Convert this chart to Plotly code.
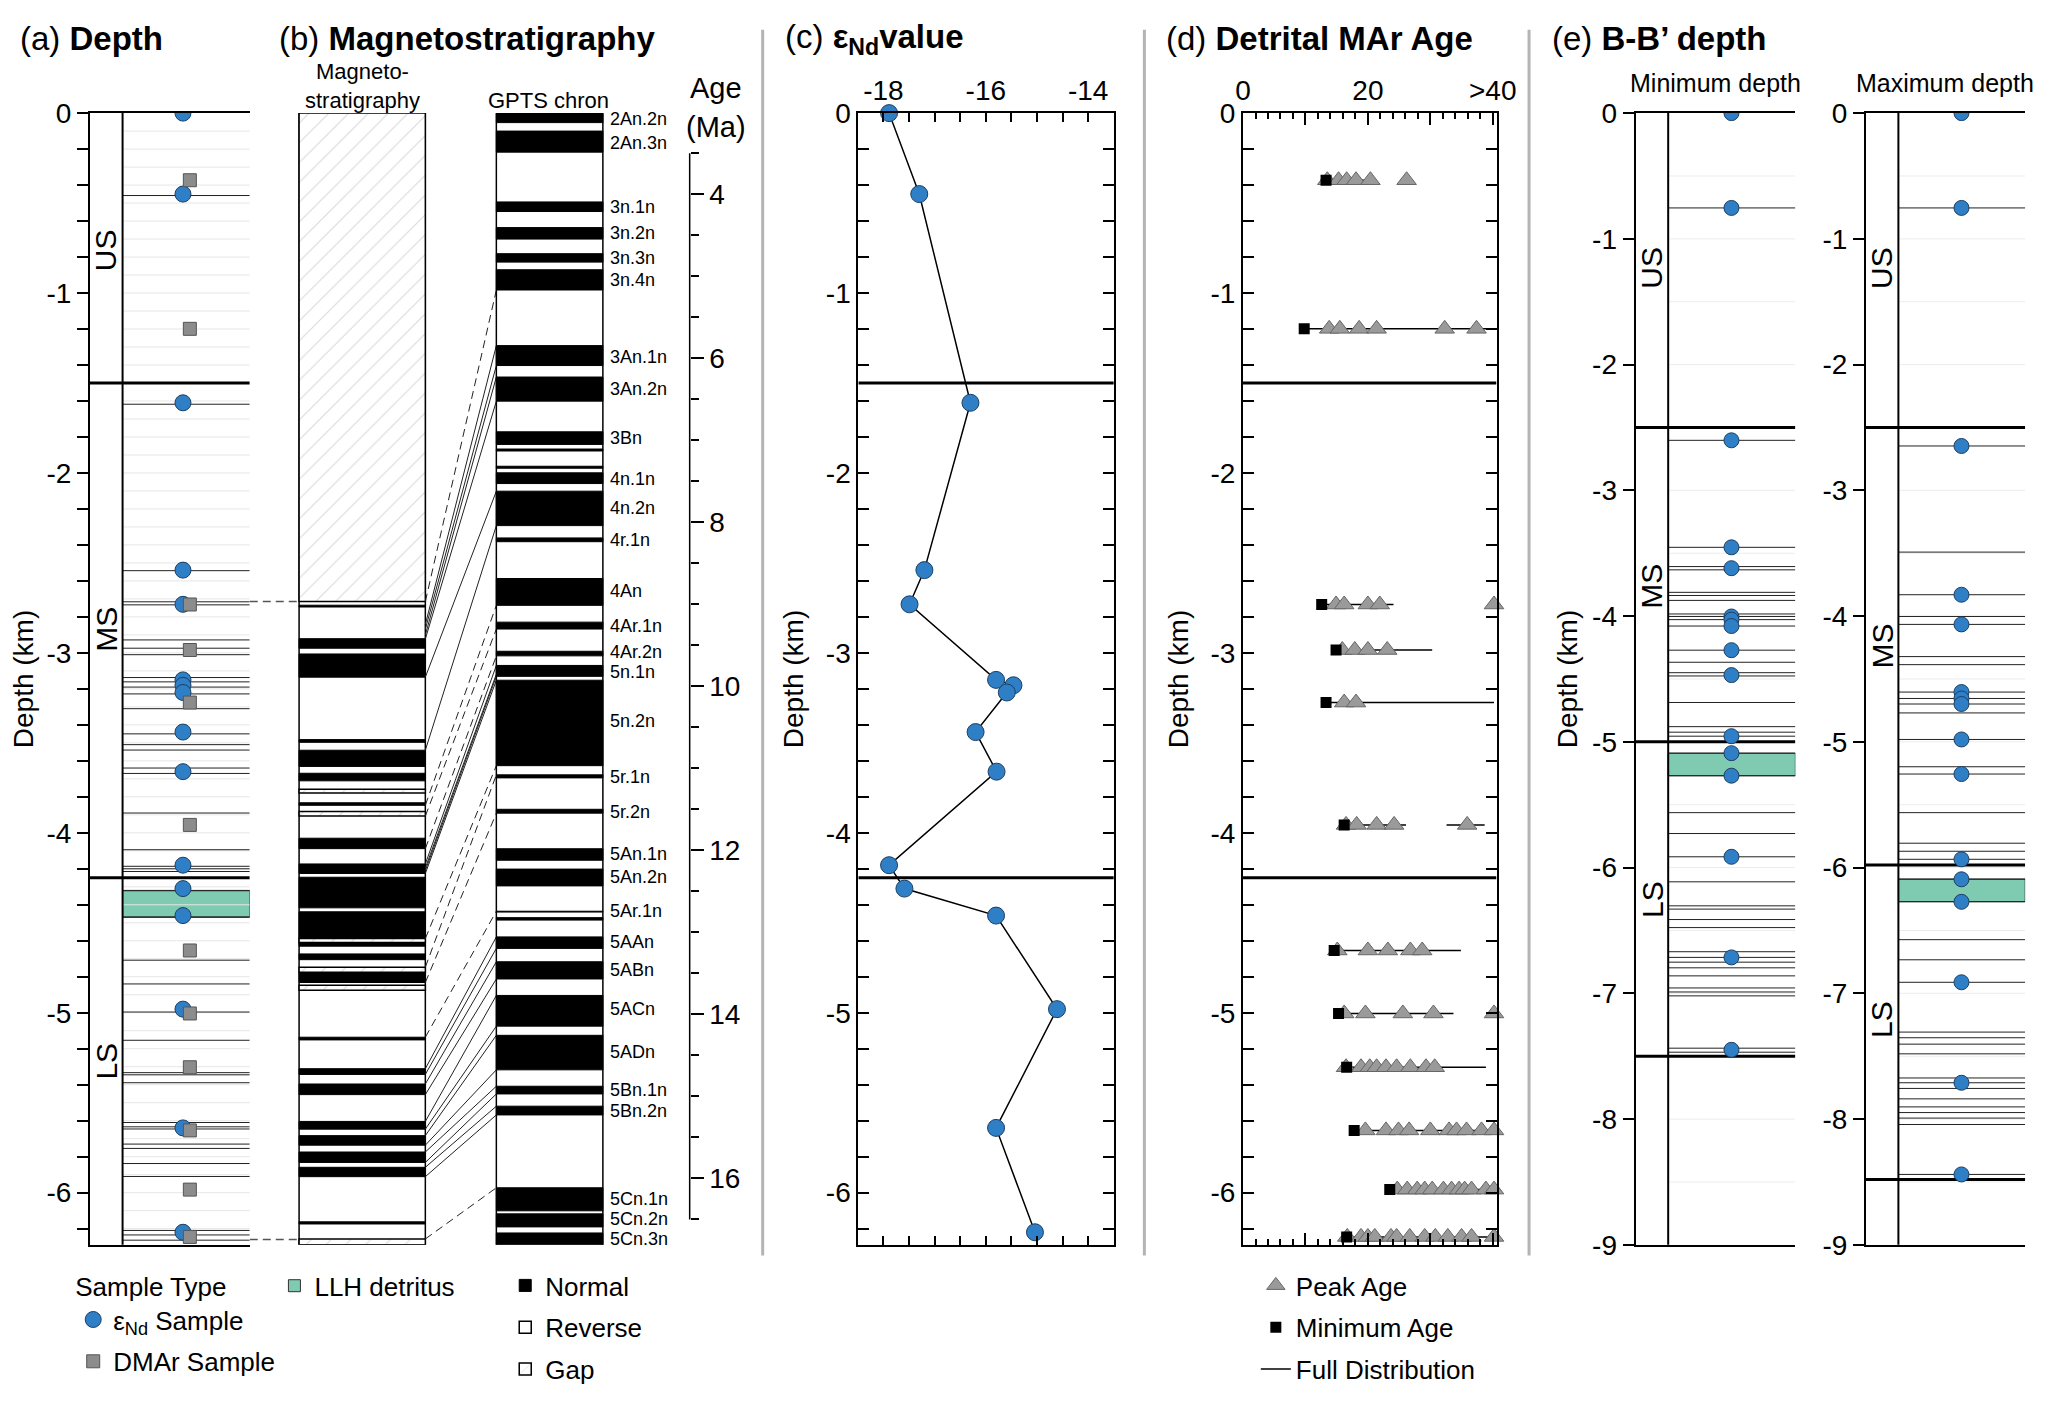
import numpy as np
import plotly.graph_objects as go

# page geometry: reference pixels -> paper fractions (page body has an 8px margin)
W, H = 2067, 1401
PAD = 8


def px(x):
    return (x - PAD) / (W - 2 * PAD)


def py(y):
    return 1 - (y - PAD) / (H - 2 * PAD)


TOP, BOT = 101, 1269
FONT = "Liberation Sans, Arial, sans-serif"
NARROW = "Liberation Sans Narrow, Liberation Sans, Arial, sans-serif"
BLUE = "#2f7fc7"
GREEN = "#7ecbb2"

# ---------------- data ----------------
# (a)/(c) eNd samples
end_depth = [0, -0.45, -1.61, -2.54, -2.73, -3.15, -3.18, -3.22, -3.44, -3.66,
             -4.18, -4.31, -4.46, -4.98, -5.64, -6.22]
end_value = [-17.89, -17.30, -16.30, -17.20, -17.49, -15.80, -15.46, -15.59, -16.20, -15.79,
             -17.89, -17.59, -15.80, -14.61, -15.80, -15.04]
# DMAr samples
dmar_depth = [-0.373, -1.199, -2.731, -2.984, -3.276, -3.956, -4.654, -5.004, -5.303,
              -5.654, -5.983, -6.246]
# unit boundaries and sampled horizons (a)
unit_bounds = [-1.5, -4.25]
unit_names = ["US", "MS", "LS"]
unit_label_depth = [-0.76, -2.87, -5.27]
llh_band = [-4.32, -4.47]
horizons_a = [-0.458, -1.618, -2.543, -2.716, -2.733, -2.928, -2.974, -3.01, -3.137, -3.161,
              -3.19, -3.228, -3.31, -3.45, -3.51, -3.54, -3.64, -3.67, -3.89, -4.094, -4.186,
              -4.20, -4.215, -4.322, -4.467, -4.708, -4.84, -4.996, -5.153, -5.333, -5.345,
              -5.389, -5.61, -5.634, -5.646, -5.73, -5.754, -5.838, -5.91, -6.21, -6.235, -6.264]
DEPTH_MIN = -6.29

# (b) magnetostratigraphy (depth km, top/bottom)
mag_normal = [(2.735, 2.745), (2.921, 2.974), (3.006, 3.135), (3.482, 3.497), (3.541, 3.631),
              (3.669, 3.711), (3.833, 3.847), (4.030, 4.088), (4.173, 4.226), (4.247, 4.417),
              (4.439, 4.588), (4.609, 4.630), (4.673, 4.705), (4.775, 4.832), (5.136, 5.151),
              (5.311, 5.343), (5.396, 5.455), (5.604, 5.647), (5.683, 5.736), (5.774, 5.832),
              (5.859, 5.911), (6.162, 6.174)]
mag_gap = [(0, 2.715), (3.758, 3.779), (3.881, 3.907), (4.588, 4.609), (4.747, 4.775),
           (4.847, 4.875), (6.257, 6.29)]
# GPTS normal chrons (age Ma, top/bottom)
gpts_normal = [(3.019, 3.126), (3.229, 3.486), (4.093, 4.210), (4.406, 4.546), (4.724, 4.827),
               (4.920, 5.167), (5.845, 6.088), (6.228, 6.522), (6.896, 7.050), (7.106, 7.13),
               (7.316, 7.34), (7.396, 7.527), (7.620, 8.040), (8.190, 8.236), (8.685, 9.012),
               (9.217, 9.301), (9.572, 9.628), (9.745, 9.878), (9.925, 10.967), (11.079, 11.116),
               (11.499, 11.546), (11.980, 12.120), (12.228, 12.433), (12.742, 12.752),
               (12.82, 12.85), (13.055, 13.195), (13.358, 13.568), (13.769, 14.143),
               (14.255, 14.676), (14.876, 14.970), (15.119, 15.226), (16.114, 16.395),
               (16.432, 16.591), (16.665, 16.815)]
GPTS_TOP, GPTS_BOT = 3.019, 16.815
chron_names = ["2An.2n", "2An.3n", "3n.1n", "3n.2n", "3n.3n", "3n.4n", "3An.1n", "3An.2n", "3Bn",
               "4n.1n", "4n.2n", "4r.1n", "4An", "4Ar.1n", "4Ar.2n", "5n.1n", "5n.2n", "5r.1n",
               "5r.2n", "5An.1n", "5An.2n", "5Ar.1n", "5AAn", "5ABn", "5ACn", "5ADn", "5Bn.1n",
               "5Bn.2n", "5Cn.1n", "5Cn.2n", "5Cn.3n"]
chron_label_age = [3.08, 3.37, 4.16, 4.47, 4.78, 5.04, 5.98, 6.37, 6.97, 7.47, 7.83, 8.22, 8.84,
                   9.27, 9.58, 9.82, 10.42, 11.11, 11.53, 12.05, 12.33, 12.74, 13.12, 13.46,
                   13.94, 14.46, 14.92, 15.18, 16.25, 16.49, 16.74]
AGE_TOP, AGE_BOT = 3.01, 16.81
age_ticks = [4, 6, 8, 10, 12, 14, 16]
# correlation ties (depth km, age Ma)
tie_solid = [(2.842, 5.845), (2.869, 6.088), (2.901, 6.228), (2.923, 6.522), (3.135, 7.620),
             (3.541, 8.040), (4.173, 9.745), (4.195, 9.852), (4.210, 9.878), (4.226, 9.925),
             (5.311, 13.055), (5.343, 13.195), (5.396, 13.358), (5.455, 13.568), (5.604, 13.769),
             (5.647, 14.143), (5.683, 14.255), (5.736, 14.676), (5.774, 14.876), (5.832, 14.970),
             (5.859, 15.119), (5.911, 15.226)]
tie_dashed = [(2.715, 5.167), (3.847, 9.012), (3.907, 9.301), (4.088, 9.628), (4.588, 10.967),
              (4.747, 11.079), (4.832, 11.546), (5.136, 12.742), (6.257, 16.114)]
link_depths = [-2.715, -6.26]

# (d) detrital MAr ages (Ma)
min_age = [13.3, 9.8, 12.6, 14.9, 13.3, 16.2, 14.6, 15.3, 16.6, 17.8, 23.5, 16.6]
peak_ages = [[13.5, 15.3, 16.6, 18.1, 20.4, 26.2],
             [13.8, 15.5, 18.6, 21.4, 32.3, 37.4],
             [14.9, 16.2, 20.0, 21.9, 40.2],
             [15.9, 17.9, 20.0, 23.1],
             [16.2, 18.1],
             [16.5, 18.2, 21.4, 24.2, 35.9],
             [15.1, 20.0, 23.2, 26.8, 28.7],
             [16.2, 19.6, 25.6, 30.5, 40.2],
             [16.5, 18.9, 20.3, 21.4, 22.9, 24.6, 26.8, 29.3, 30.7],
             [19.6, 22.9, 24.9, 26.6, 30.0, 33.0, 34.2, 35.8, 38.2, 40.2],
             [24.7, 26.3, 27.9, 29.1, 30.3, 32.1, 33.4, 34.6, 35.5, 36.6, 38.9, 40.2],
             [16.7, 18.9, 20.0, 21.1, 23.7, 24.6, 26.7, 29.1, 30.8, 32.8, 35.0, 36.6, 40.2]]
full_dist = [[(12.4, 21.3)], [(9.8, 39.8)], [(12.6, 24.1)], [(14.9, 30.3)], [(13.3, 40.2)],
             [(15.4, 26.1), (32.6, 38.7)], [(14.6, 34.9)], [(15.3, 33.7)], [(15.8, 38.9)],
             [(17.8, 40.5)], [(23.5, 40.5)], [(15.8, 40.5)]]

# (e) B-B' depth models
emin_depth = [0, -0.754, -2.602, -3.453, -3.619, -4.003, -4.028, -4.079, -4.271, -4.469,
              -4.955, -5.090, -5.269, -5.914, -6.714, -7.449]
emax_depth = [0, -0.754, -2.647, -3.830, -4.066, -4.604, -4.655, -4.699, -4.981, -5.256,
              -5.934, -6.093, -6.272, -6.912, -7.711, -8.440]
emin_bounds = [-2.5, -5.0, -7.5]
emax_bounds = [-2.5, -5.98, -8.48]
emin_label_depth = [-1.23, -3.76, -6.25]
emax_label_depth = [-1.23, -4.24, -7.21]
emin_llh = [-5.09, -5.27]
emax_llh = [-6.09, -6.27]
emin_horizons = [-0.754, -2.602, -3.453, -3.606, -3.632, -3.811, -3.836, -3.875, -3.983, -4.003,
                 -4.028, -4.079, -4.271, -4.367, -4.450, -4.476, -4.687, -4.879, -4.923, -4.955,
                 -5.090, -5.269, -5.563, -5.729, -5.914, -6.113, -6.304, -6.330, -6.413, -6.477,
                 -6.669, -6.714, -6.752, -6.797, -6.861, -6.957, -6.989, -7.020, -7.436, -7.468]
emax_horizons = [-0.754, -2.647, -3.491, -3.830, -4.003, -4.066, -4.322, -4.386, -4.604, -4.655,
                 -4.699, -4.770, -4.981, -5.198, -5.256, -5.563, -5.806, -5.870, -5.934, -6.093,
                 -6.272, -6.573, -6.733, -6.912, -7.308, -7.353, -7.404, -7.481, -7.673, -7.711,
                 -7.756, -7.839, -7.903, -7.948, -7.992, -8.043, -8.440, -8.478]

# ---------------- layout constants ----------------
STRAT = 0.204                 # strat-column divider in the (a)/(e) columns
MAIN_C, MAIN_W = (STRAT + 1) / 2, 1 - STRAT
MAG_L, MAG_R, GP_L, GP_R, AGE_X = 295, 423, 495, 603, 691


def hlines(depths, x0, x1):
    xs, ys = [], []
    for d in depths:
        xs += [x0, x1, None]
        ys += [d, d, None]
    return xs, ys


def age_to_depth(a):
    # position on the shared (b) panel height
    return DEPTH_MIN * (a - AGE_TOP) / (AGE_BOT - AGE_TOP)


fig = go.Figure()

# ---------- bars first (so lines and markers draw above) ----------
fig.add_bar(x=[(MAG_L + MAG_R) / 2], width=[MAG_R - MAG_L], base=[0], y=[DEPTH_MIN],
            xaxis="x2", yaxis="y2", marker=dict(color="white", line=dict(color="black", width=1.5)),
            name="Reverse", legend="legend3", legendgroup="rev", legendrank=2)
fig.add_bar(x=[(GP_L + GP_R) / 2], width=[GP_R - GP_L], base=[GPTS_TOP], y=[GPTS_BOT - GPTS_TOP],
            xaxis="x2", yaxis="y3", marker=dict(color="white", line=dict(color="black", width=1.5)),
            showlegend=False)
fig.add_bar(x=[(MAG_L + MAG_R) / 2] * len(mag_normal), width=[MAG_R - MAG_L] * len(mag_normal),
            base=[-t for t, b in mag_normal], y=[t - b for t, b in mag_normal],
            xaxis="x2", yaxis="y2", marker=dict(color="black", line=dict(color="black", width=1)),
            name="Normal", legend="legend3", legendgroup="nor", legendrank=1)
fig.add_bar(x=[(GP_L + GP_R) / 2] * len(gpts_normal), width=[GP_R - GP_L] * len(gpts_normal),
            base=[t for t, b in gpts_normal], y=[b - t for t, b in gpts_normal],
            xaxis="x2", yaxis="y3", marker=dict(color="black", line=dict(color="black", width=1)),
            showlegend=False)
fig.add_bar(x=[(MAG_L + MAG_R) / 2] * len(mag_gap), width=[MAG_R - MAG_L] * len(mag_gap),
            base=[-t for t, b in mag_gap], y=[t - b for t, b in mag_gap],
            xaxis="x2", yaxis="y2",
            marker=dict(color="white", line=dict(color="black", width=1.5),
                        pattern=dict(shape="/", fgcolor="#b5b5b5", bgcolor="white", size=14,
                                     solidity=0.08)),
            name="Gap", legend="legend3", legendgroup="gap", legendrank=3)
# LLH detritus bands
for xa, ya, band, show in [("x", "y", llh_band, True), ("x5", "y6", emin_llh, False),
                           ("x6", "y7", emax_llh, False)]:
    fig.add_bar(x=[MAIN_C], width=[MAIN_W], base=[band[0]], y=[band[1] - band[0]],
                xaxis=xa, yaxis=ya, marker=dict(color=GREEN, line=dict(color="#333", width=1)),
                name="LLH detritus", legend="legend2", showlegend=show)

# ---------- (a) depth column ----------
gx, gy = hlines(np.arange(-0.1, DEPTH_MIN, -0.1), STRAT, 1)
fig.add_scatter(x=gx, y=gy, mode="lines", line=dict(color="#e6e6e6", width=1), showlegend=False)
hx, hy = hlines(horizons_a, STRAT, 1)
fig.add_scatter(x=hx, y=hy, mode="lines", line=dict(color="#222", width=1), showlegend=False)
bx, by = hlines(unit_bounds, 0, 1)
fig.add_scatter(x=bx, y=by, mode="lines", line=dict(color="black", width=3), showlegend=False)
fig.add_scatter(x=[0.582] * len(end_depth), y=end_depth, mode="markers",
                marker=dict(symbol="circle", size=16, color=BLUE, line=dict(color="#1d3f63", width=1)),
                name="ε<sub>Nd</sub> Sample", legend="legend", legendgroup="end")
fig.add_scatter(x=[0.625] * len(dmar_depth), y=dmar_depth, mode="markers",
                marker=dict(symbol="square", size=13, color="#8c8c8c", line=dict(color="#555", width=1)),
                name="DMAr Sample", legend="legend", legendgroup="dmar")

# ---------- (b) ties ----------
lx, ly = hlines(link_depths, 245, MAG_L)
fig.add_scatter(x=lx, y=ly, xaxis="x2", yaxis="y2", mode="lines",
                line=dict(color="#555", width=1.5, dash="8px,5px"), showlegend=False)
for ties, dash in [(tie_solid, "solid"), (tie_dashed, "8px,5px")]:
    tx, ty = [], []
    for d, a in ties:
        tx += [MAG_R, GP_L, None]
        ty += [-d, age_to_depth(a), None]
    fig.add_scatter(x=tx, y=ty, xaxis="x2", yaxis="y2", mode="lines",
                    line=dict(color="#222", width=1, dash=dash), showlegend=False)
fig.add_scatter(x=[AGE_X, AGE_X], y=[3.5, 16.5], xaxis="x2", yaxis="y3", mode="lines",
                line=dict(color="black", width=1.5), showlegend=False)

# ---------- (c) eNd ----------
bx, by = hlines(unit_bounds, -18.49, -13.5)
fig.add_scatter(x=bx, y=by, xaxis="x3", yaxis="y4", mode="lines",
                line=dict(color="black", width=3), showlegend=False)
fig.add_scatter(x=end_value, y=end_depth, xaxis="x3", yaxis="y4", mode="lines+markers",
                line=dict(color="black", width=1.5), cliponaxis=False,
                marker=dict(size=17, color=BLUE, line=dict(color="#1d3f63", width=1)),
                showlegend=False)

# ---------- (d) detrital MAr ages ----------
bx, by = hlines(unit_bounds, 0, 40.6)
fig.add_scatter(x=bx, y=by, xaxis="x4", yaxis="y5", mode="lines",
                line=dict(color="black", width=3), showlegend=False)
fx, fy, tx, ty = [], [], [], []
for d, segs, peaks in zip(dmar_depth, full_dist, peak_ages):
    for a0, a1 in segs:
        fx += [a0, a1, None]
        fy += [d, d, None]
    tx += peaks
    ty += [d] * len(peaks)
fig.add_scatter(x=fx, y=fy, xaxis="x4", yaxis="y5", mode="lines",
                line=dict(color="black", width=1.5), name="Full Distribution",
                legend="legend4", legendgroup="fd", legendrank=3)
fig.add_scatter(x=tx, y=ty, xaxis="x4", yaxis="y5", mode="markers", cliponaxis=False,
                marker=dict(symbol="triangle-up", size=17, color="#9a9a9a", line=dict(color="#666", width=1)),
                name="Peak Age", legend="legend4", legendgroup="pk", legendrank=1)
fig.add_scatter(x=min_age, y=dmar_depth, xaxis="x4", yaxis="y5", mode="markers",
                marker=dict(symbol="square", size=11, color="black"),
                name="Minimum Age", legend="legend4", legendgroup="mn", legendrank=2)

# ---------- (e) B-B' depth columns ----------
for xa, ya, dep, hor, bnd in [("x5", "y6", emin_depth, emin_horizons, emin_bounds),
                              ("x6", "y7", emax_depth, emax_horizons, emax_bounds)]:
    gx, gy = hlines(np.arange(-0.5, -9, -0.5), STRAT, 1)
    fig.add_scatter(x=gx, y=gy, xaxis=xa, yaxis=ya, mode="lines",
                    line=dict(color="#ececec", width=1), showlegend=False)
    hx, hy = hlines(hor, STRAT, 1)
    fig.add_scatter(x=hx, y=hy, xaxis=xa, yaxis=ya, mode="lines",
                    line=dict(color="#222", width=1), showlegend=False)
    bx, by = hlines(bnd, 0, 1)
    fig.add_scatter(x=bx, y=by, xaxis=xa, yaxis=ya, mode="lines",
                    line=dict(color="black", width=3), showlegend=False)
    fig.add_scatter(x=[0.6] * len(dep), y=dep, xaxis=xa, yaxis=ya, mode="markers",
                    marker=dict(size=15, color=BLUE, line=dict(color="#1d3f63", width=1)),
                    showlegend=False)

# ---------------- axes ----------------
TICKF = dict(family=FONT, size=28, color="black")
depth_ticks = list(range(0, -7, -1))
e_ticks = list(range(0, -10, -1))
ydom = [py(BOT), py(TOP)]


def minor(dt, ln, side):
    return dict(tickmode="linear", tick0=0, dtick=dt, ticklen=ln, ticks=side,
                tickcolor="black", tickwidth=1.5)


def depth_yaxis(anchor, ticks, side, mn, title=None, standoff=8):
    ax = dict(domain=ydom, anchor=anchor, range=[DEPTH_MIN, 0],
              tickmode="array", tickvals=ticks, ticktext=[f"{v:g}" for v in ticks],
              ticks=side, ticklen=11, tickwidth=1.5, tickcolor="black", tickfont=TICKF,
              showline=True, linecolor="black", linewidth=2, showgrid=False, zeroline=False)
    if mn:
        ax["minor"] = minor(mn, 11, side)
    if title:
        ax["title"] = dict(text=title, font=dict(family=FONT, size=28), standoff=standoff)
    return ax


def inner_ticks(base, anchor, ticks, rng, mn):
    ax = dict(overlaying=base, anchor=anchor, side="right", range=rng, tickmode="array",
              tickvals=ticks, showticklabels=False, ticks="inside", ticklen=11, tickwidth=1.5,
              tickcolor="black", showline=False, showgrid=False, zeroline=False)
    if mn:
        ax["minor"] = minor(mn, 11, "inside")
    return ax


box_x = dict(range=[0, 1], showline=True, linecolor="black", linewidth=2, mirror=True,
             ticks="", showticklabels=False, showgrid=False, zeroline=False)

layout_axes = dict(
    xaxis=dict(domain=[px(83), px(245)], anchor="y", **box_x),
    yaxis=depth_yaxis("x", depth_ticks, "outside", 0.2, "Depth (km)", 6),
    yaxis9=inner_ticks("y", "x", depth_ticks, [DEPTH_MIN, 0], 0.2),
    xaxis2=dict(domain=[px(245), px(700)], anchor="y2", range=[245, 700], visible=False),
    yaxis2=dict(domain=ydom, anchor="x2", range=[DEPTH_MIN, 0], visible=False),
    yaxis3=dict(overlaying="y2", anchor="free", position=px(AGE_X), side="right",
                range=[AGE_BOT, AGE_TOP], tickmode="array", tickvals=age_ticks,
                ticktext=[str(v) for v in age_ticks], ticks="outside", ticklen=13, tickwidth=1.5,
                tickcolor="black", tickfont=TICKF, minor=minor(0.5, 8, "outside"),
                showline=False, showgrid=False, zeroline=False),
    xaxis3=dict(domain=[px(862), px(1121)], anchor="y4", side="top", range=[-18.49, -13.5],
                tickmode="array", tickvals=[-18, -16, -14], ticktext=["-18", "-16", "-14"],
                ticks="inside", ticklen=9, tickwidth=1.5, tickcolor="black", tickfont=TICKF,
                minor=minor(0.5, 9, "inside"), showline=True, linecolor="black", linewidth=2,
                mirror="ticks", showgrid=False, zeroline=False),
    yaxis4=dict(depth_yaxis("x3", depth_ticks, "inside", 0.2, "Depth (km)", 14), mirror="ticks"),
    xaxis4=dict(domain=[px(1252), px(1509)], anchor="y5", side="top", range=[0, 40.6],
                tickmode="array", tickvals=[0, 10, 20, 30, 40], ticktext=["0", " ", "20", " ", ">40"],
                ticks="inside", ticklen=12, tickwidth=1.5, tickcolor="black", tickfont=TICKF,
                minor=minor(2, 6, "inside"), showline=True, linecolor="black", linewidth=2,
                mirror="ticks", showgrid=False, zeroline=False),
    yaxis5=dict(depth_yaxis("x4", depth_ticks, "inside", 0.2, "Depth (km)", 14), mirror="ticks"),
    xaxis5=dict(domain=[px(1650), px(1812)], anchor="y6", **box_x),
    yaxis6=dict(depth_yaxis("x5", e_ticks, "outside", None, "Depth (km)", 6), range=[-9, 0]),
    yaxis10=inner_ticks("y6", "x5", e_ticks, [-9, 0], None),
    xaxis6=dict(domain=[px(1883.5), px(2045)], anchor="y7", **box_x),
    yaxis7=dict(depth_yaxis("x6", e_ticks, "outside", None), range=[-9, 0]),
    yaxis11=inner_ticks("y7", "x6", e_ticks, [-9, 0], None),
)

# ---------------- annotations ----------------
ann = []


def note(text, x, y, size, xref="paper", yref="paper", xanchor="center", angle=0, family=FONT):
    ann.append(dict(text=text, x=x, y=y, xref=xref, yref=yref, xanchor=xanchor, yanchor="middle",
                    showarrow=False, textangle=angle, font=dict(family=family, size=size, color="black")))


for lbl, x0 in [("(a) <b>Depth</b>", 10), ("(b) <b>Magnetostratigraphy</b>", 273),
                ("(c) <b>ε<sub>Nd</sub>value</b>", 786), ("(d) <b>Detrital MAr Age</b>", 1172),
                ("(e) <b>B-B’ depth</b>", 1563)]:
    note(lbl, px(x0), py(24), 33, xanchor="left")
note("Magneto-<br>stratigraphy", px(359), py(73), 22)
note("GPTS chron", px(548), py(88), 22)
note("Age", px(718), py(75), 29)
note("(Ma)", px(718), py(115), 29)
note("Minimum depth", px(1731), py(70), 25)
note("Maximum depth", px(1964), py(70), 25)
for name, a in zip(chron_names, chron_label_age):
    note(name, 608, a, 18, xref="x2", yref="y3", xanchor="left")
for names, depths, xr, yr in [(unit_names, unit_label_depth, "x", "y"),
                              (unit_names, emin_label_depth, "x5", "y6"),
                              (unit_names, emax_label_depth, "x6", "y7")]:
    for n, d in zip(names, depths):
        note(n, STRAT / 2, d, 30, xref=xr, yref=yr, angle=-90, family=NARROW)

# column dividers and panel separators
shapes = [dict(type="line", xref=xr, yref=yr + " domain", x0=STRAT, x1=STRAT, y0=0, y1=1,
               line=dict(color="black", width=2)) for xr, yr in [("x", "y"), ("x5", "y6"), ("x6", "y7")]]
for xs in [765, 1152, 1542]:
    shapes.append(dict(type="line", xref="paper", yref="paper", x0=px(xs), x1=px(xs),
                       y0=py(1280), y1=py(15), line=dict(color="#b4b4b4", width=3)))

LEGF = dict(family=FONT, size=26, color="black")


def legend_at(x, title=None):
    lg = dict(x=px(x), y=py(1287), xanchor="left", yanchor="top", bgcolor="rgba(0,0,0,0)",
              font=LEGF, traceorder="grouped", tracegroupgap=5, borderwidth=0)
    if title:
        lg["title"] = dict(text=title, font=LEGF)
    return lg


fig.update_layout(
    width=W - 2 * PAD, height=H - 2 * PAD, margin=dict(l=0, r=0, t=0, b=0), autosize=False,
    paper_bgcolor="white", plot_bgcolor="rgba(0,0,0,0)", barmode="overlay",
    font=dict(family=FONT, color="black"), hovermode=False, showlegend=True,
    legend=legend_at(66, "Sample Type"), legend2=legend_at(270), legend3=legend_at(504),
    legend4=legend_at(1265), annotations=ann, shapes=shapes, **layout_axes,
)

fig.write_html("out.html")
